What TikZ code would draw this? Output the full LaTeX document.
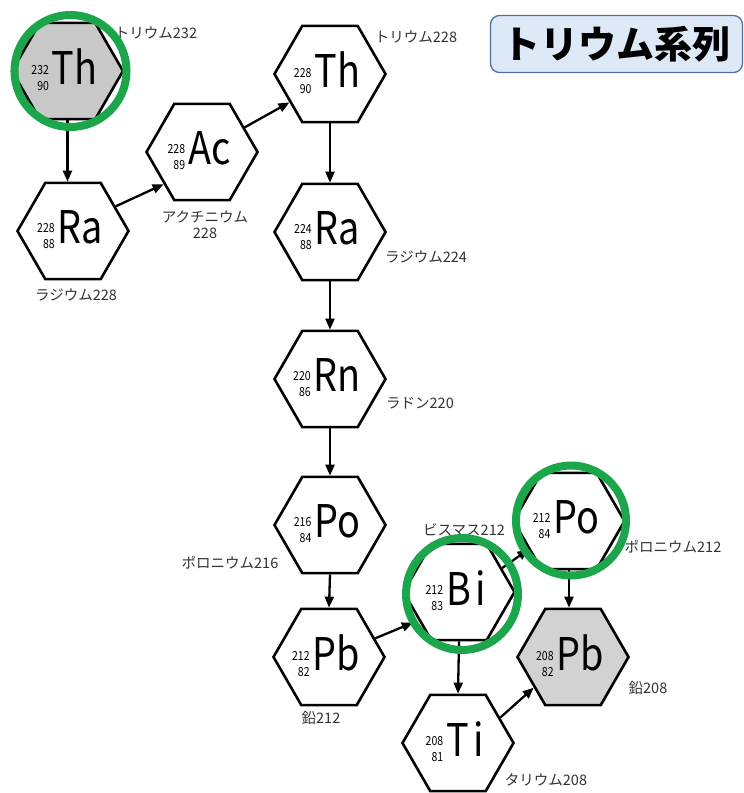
\documentclass[tikz,border=0pt]{standalone}
\usepackage{fontspec}
\setmainfont{Noto Sans CJK JP}
\newfontfamily\elemfamily[FakeStretch=0.84]{Noto Sans CJK JP}
\usetikzlibrary{shapes.geometric,arrows.meta,calc}
\definecolor{ringgreen}{RGB}{28,166,76}
\definecolor{hexgray}{RGB}{200,200,200}
\definecolor{hexgrayb}{RGB}{210,210,210}
\definecolor{lblgray}{RGB}{50,50,50}
\definecolor{titlefill}{RGB}{222,233,247}
\definecolor{titledraw}{RGB}{80,110,160}
\newcommand\symfnt{\elemfamily\fontsize{45}{45}\selectfont}
\newcommand\numfnt{\fontsize{12.5}{16}\selectfont}
\newcommand\nucnums[2]{\raisebox{3pt}{\numfnt\begin{tabular}[c]{@{}r@{}}#1\\#2\end{tabular}}}
\newcommand\hexelem[7]{%
  \node[hexa, fill=#7] (#1) at (#2,#3) {};
  \node[symtext] (#1t) at ($(#1.center)+(-3,1)$) {\nucnums{#4}{#5}\hspace{3pt}#6};
}
\begin{document}
\begin{tikzpicture}[x=1pt,y=-1pt,
  hexa/.style={regular polygon, regular polygon sides=6, minimum size=111pt, inner sep=0pt, draw=black, line width=2.6pt},
  symtext/.style={font=\symfnt, inner sep=0pt},
  lbl/.style={font=\fontsize{14.5}{16}\selectfont, text=lblgray, inner sep=0pt, align=center},
  arr/.style={line width=2.3pt, -{Triangle[length=11pt,width=9pt]}},
  ring/.style={draw=ringgreen, line width=8pt},
  titlebox/.style={draw=titledraw, fill=titlefill, line width=1.3pt, rounded corners=9pt}]
\useasboundingbox (0,0) rectangle (744,793);
\fill[white] (0,0) rectangle (744,793);

% title
\node[titlebox, minimum width=252pt, minimum height=57pt, font=\fontsize{38}{40}\selectfont\bfseries] (title) at (616.5,44) {トリウム系列};

% hexagons
\hexelem{Th232}{67.5}{71}{232}{90}{Th}{hexgray}
\hexelem{Ra228}{73}{231}{228}{88}{Ra}{white}
\hexelem{Ac228}{202}{152}{228}{89}{Ac}{white}
\hexelem{Th228}{330}{74}{228}{90}{Th}{white}
\hexelem{Ra224}{330}{232}{224}{88}{Ra}{white}
\hexelem{Rn220}{330}{379}{220}{86}{Rn}{white}
\hexelem{Po216}{330}{525}{216}{84}{Po}{white}
\hexelem{Pb212}{329}{657}{212}{82}{Pb}{white}
\hexelem{Bi212}{459}{592}{212}{83}{B\hspace{5pt}i}{white}
\hexelem{Po212}{569}{521}{212}{84}{Po}{white}
\hexelem{Pb208}{573}{657}{208}{82}{Pb}{hexgrayb}
\hexelem{Ti208}{458}{743}{208}{81}{T\hspace{5pt}i}{white}

% labels
\node[lbl] (lTh232) at (156,33) {トリウム232};
\node[lbl] (lRa228) at (76,295) {ラジウム228};
\node[lbl] (lAc228) at (205,225) {アクチニウム\\228};
\node[lbl] (lTh228) at (416,37) {トリウム228};
\node[lbl] (lRa224) at (426,257) {ラジウム224};
\node[lbl] (lRn220) at (420,403) {ラドン220};
\node[lbl] (lPo216) at (230,563) {ポロニウム216};
\node[lbl] (lBi212) at (464,530) {ビスマス212};
\node[lbl] (lPo212) at (673,547) {ポロニウム212};
\node[lbl] (lPb212) at (321,718) {鉛212};
\node[lbl] (lPb208) at (648,688) {鉛208};
\node[lbl] (lTi208) at (546,780) {タリウム208};

% arrows
\draw[arr] (Th232.south) -- (Th232.south |- Ra228.north);
\draw[arr] (Ra228.30) -- (Ac228.220);
\draw[arr] (Ac228.30) -- (Th228.215);
\draw[arr] (Th228.south) -- (Ra224.north);
\draw[arr] (Ra224.south) -- (Rn220.north);
\draw[arr] (Rn220.south) -- (Po216.north);
\draw[arr] (Po216.south) -- (Pb212.north);
\draw[arr, shorten >=6pt] (Pb212.22) -- (Bi212.215);
\draw[arr] (Bi212.29) -- (Po212.215);
\draw[arr] (Bi212.south) -- (Ti208.north);
\draw[arr] (Po212.south) -- (Po212.south |- Pb208.north);
\draw[arr] (Ti208.31) -- (Pb208.218);

% green rings
\draw[ring] (70.5,71) circle (56);
\draw[ring] (462,594) circle (56);
\draw[ring] (571,520.5) circle (55);
\end{tikzpicture}
\end{document}
